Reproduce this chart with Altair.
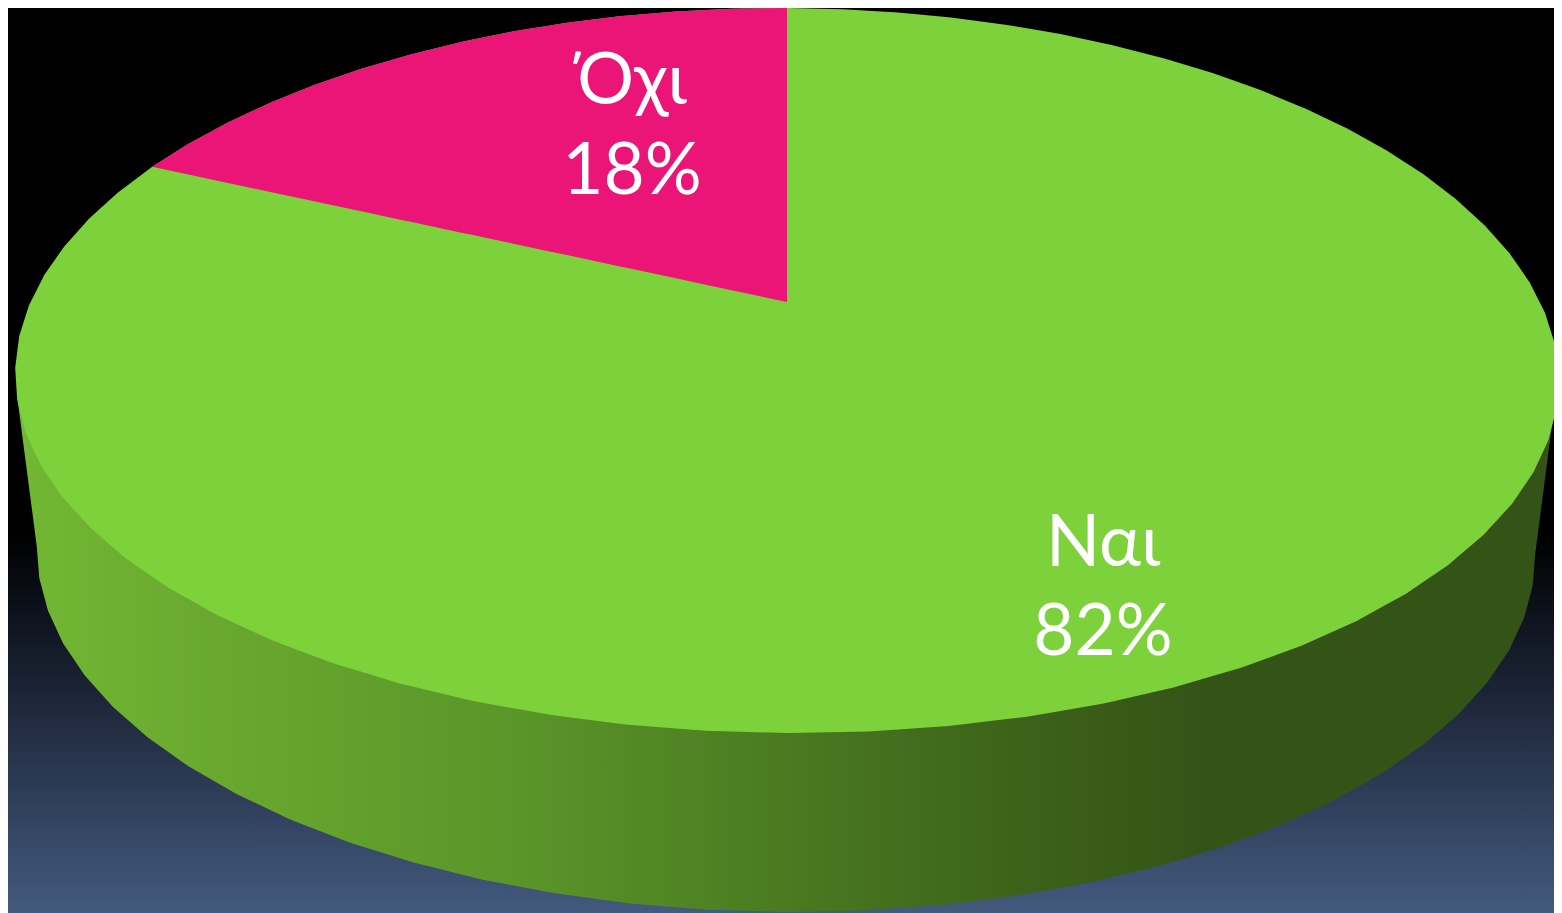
import numpy as np
import pandas as pd
import altair as alt

# Chart values
labels = ["Όχι", "Ναι"]
shares = [18, 82]

# Canvas: page margin is 8px, so the canvas shows the picture from (8, 8) onward
M = 8
W, H = 1546, 905
# View geometry: a flat disc seen in perspective (centre, half-axes, perspective, side sag)
TOP = dict(cx=787.0, cy=302.0, a=758.0, b=349.6, k=0.189, sag=7.0)
BOT = dict(cx=786.0, cy=487.6, a=737.0, b=348.0, k=0.18, sag=0.0)
TILT = 0.005


def project(turn, g):
    t = 2 * np.pi * np.asarray(turn, dtype=float)
    d = 1 + g["k"] * np.cos(t)
    x = g["cx"] - g["a"] * np.sin(t) / d
    y = g["cy"] - g["b"] * np.cos(t) / d + g["sag"] * np.sin(t) ** 2
    return x, y + TILT * (x - g["cx"])


def rims(g, turns):
    x, y = project(turns, g)
    left, right = int(np.argmin(x)), int(np.argmax(x))
    lx, ly = x[left: right + 1], y[left: right + 1]
    ux, uy = np.r_[x[right:], x[1: left + 1]], np.r_[y[right:], y[1: left + 1]]
    o = np.argsort(ux)
    return ux[o], uy[o], lx, ly


slice_end = shares[0] / sum(shares)
turns = np.unique(np.r_[np.arange(0, 1, 1 / 72), slice_end, 1.0])
up_x, up_y, lo_x, lo_y = rims(TOP, turns)
xs = np.unique(np.r_[up_x, lo_x])
face = pd.DataFrame({"x": xs, "y": np.interp(xs, up_x, up_y), "y2": np.interp(xs, lo_x, lo_y)})

# pink slice: rim between the top point and slice_end, closed by the radius to the centre
ex, ey = project([slice_end], TOP)
ex, ey = float(ex[0]), float(ey[0])
sx = np.unique(np.r_[ex, xs[(xs > ex) & (xs < TOP["cx"])], TOP["cx"]])
wedge = pd.DataFrame({
    "x": sx,
    "y": np.interp(sx, up_x, up_y),
    "y2": np.interp(sx, [ex, TOP["cx"]], [ey, TOP["cy"]]),
})

# side wall: silhouette of the bottom rim, tucked under the top face
_, _, bx, by = rims(BOT, turns)
wall = pd.DataFrame({
    "x": np.r_[18.0, bx, 1554.0],
    "y": np.r_[403.0, by, 410.0],
    "y2": 372.0,
})

xs_scale = alt.Scale(domain=[M, M + W], range=[0, W], nice=False, zero=False)
ys_scale = alt.Scale(domain=[M, M + H], range=[0, H], nice=False, zero=False)
X = alt.X("x:Q", scale=xs_scale, axis=None)
Y = alt.Y("y:Q", scale=ys_scale, axis=None)

bg = alt.Chart(pd.DataFrame({"a": [0]})).mark_rect(
    color=alt.LinearGradient(
        gradient="linear", x1=0, y1=0, x2=0, y2=1,
        stops=[
            alt.GradientStop(color="#000000", offset=0),
            alt.GradientStop(color="#000000", offset=0.58),
            alt.GradientStop(color="#0f1420", offset=0.68),
            alt.GradientStop(color="#435a7e", offset=1),
        ],
    )
).encode(x=alt.value(0), x2=alt.value(W), y=alt.value(0), y2=alt.value(H))

wall_layer = alt.Chart(wall).mark_area(
    color=alt.LinearGradient(
        gradient="linear", x1=0, y1=0, x2=1, y2=0,
        stops=[
            alt.GradientStop(color="#72b834", offset=0),
            alt.GradientStop(color="#6aa92f", offset=0.12),
            alt.GradientStop(color="#5a9629", offset=0.32),
            alt.GradientStop(color="#4a7a21", offset=0.5),
            alt.GradientStop(color="#3c6119", offset=0.66),
            alt.GradientStop(color="#335317", offset=0.78),
            alt.GradientStop(color="#335317", offset=1),
        ],
    )
).encode(x=X, y=Y, y2="y2:Q")

face_layer = alt.Chart(face).mark_area(color="#7dd13b").encode(x=X, y=Y, y2="y2:Q")
wedge_layer = alt.Chart(wedge).mark_area(color="#ea1577").encode(x=X, y=Y, y2="y2:Q")


def label(text, x, y):
    return alt.Chart(pd.DataFrame({"t": [text]})).mark_text(
        font="Lato", fontSize=71, color="#ffffff", align="center", baseline="alphabetic"
    ).encode(text="t:N", x=alt.value(x - M), y=alt.value(y - M))


chart = alt.layer(
    bg, wall_layer, face_layer, wedge_layer,
    label(labels[0], 632, 104), label(f"{shares[0]}%", 632, 194),
    label(labels[1], 1103, 566), label(f"{shares[1]}%", 1103, 655),
).properties(
    width=W, height=H,
    padding=0,
    autosize=alt.AutoSizeParams(type="none"),
).configure_view(stroke=None)

chart.save("out.html", embed_options={"renderer": "svg", "actions": False})
